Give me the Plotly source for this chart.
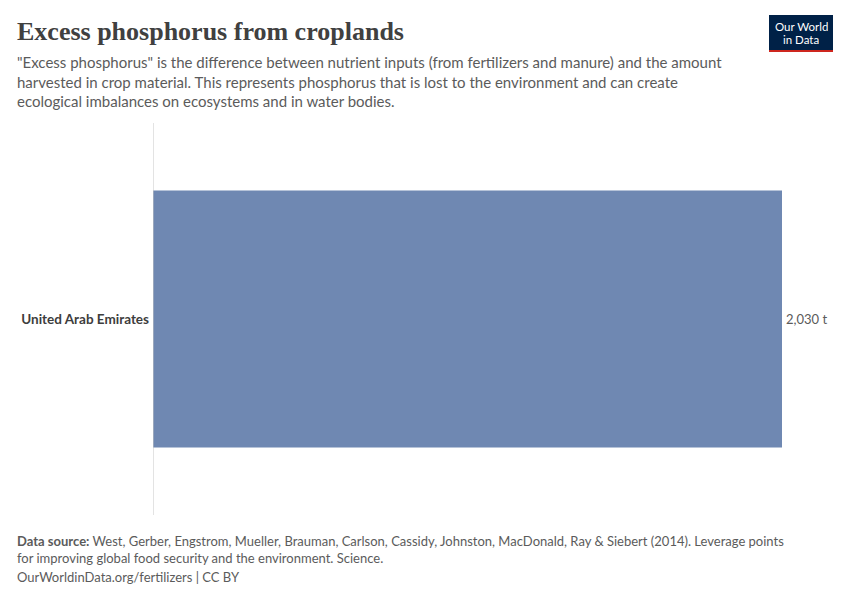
import plotly.graph_objects as go

countries = ["United Arab Emirates"]
excess_p = [2030]
value_labels = ["2,030 t"]

W, H = 850, 600
OFF = 8  # page body margin
L, R, T, B = 153 - OFF, 68 + OFF, 123 - OFF, 85 + OFF
PW, PH = W - L - R, H - T - B

fig = go.Figure()

fig.add_trace(go.Bar(
    x=excess_p, y=countries, orientation="h",
    marker=dict(color="#6f88b2", line=dict(width=0)),
    width=0.656, hoverinfo="skip",
))

# value label right of bar
for c, v, t in zip(countries, excess_p, value_labels):
    fig.add_annotation(x=v, y=c, text=t, xanchor="left", showarrow=False, xshift=2,
                       font=dict(family="Lato", size=13, color="#5b5b5b"))

fig.update_layout(
    width=W, height=H, plot_bgcolor="white", paper_bgcolor="white",
    margin=dict(l=L, r=R, t=T, b=B), showlegend=False,
    xaxis=dict(range=[0, max(excess_p)], visible=False),
    yaxis=dict(range=[-0.5, 0.5], showgrid=False, showline=False, ticks="",
               tickfont=dict(family="Lato", size=13.5, color="#3d3d3d", weight="bold"),
               ticklabelstandoff=3),
)

fig.add_shape(type="line", xref="x", yref="paper", x0=0, x1=0, y0=0, y1=1,
              line=dict(color="#c8c8c8", width=1))


def px_x(p):
    return (p - OFF - L) / PW


def px_y(p):
    return (H - B - (p - OFF)) / PH


fig.add_annotation(xref="paper", yref="paper", x=px_x(15), y=px_y(31),
                   text="Excess phosphorus from croplands", showarrow=False,
                   xanchor="left", yanchor="middle",
                   font=dict(family="Liberation Serif", size=26, color="#404040", weight="bold"))

subtitle = ('"Excess phosphorus" is the difference between nutrient inputs (from fertilizers and manure) and the amount<br>'
            'harvested in crop material. This represents phosphorus that is lost to the environment and can create<br>'
            'ecological imbalances on ecosystems and in water bodies.')
fig.add_annotation(xref="paper", yref="paper", x=px_x(15), y=px_y(51), text=subtitle,
                   showarrow=False, xanchor="left", yanchor="top", align="left",
                   font=dict(family="Lato", size=15, color="#5b5b5b"))

footer = ('<b>Data source:</b> West, Gerber, Engstrom, Mueller, Brauman, Carlson, Cassidy, Johnston, MacDonald, Ray & Siebert (2014). Leverage points<br>'
          'for improving global food security and the environment. Science.')
fig.add_annotation(xref="paper", yref="paper", x=px_x(15), y=px_y(531), text=footer,
                   showarrow=False, xanchor="left", yanchor="top", align="left",
                   font=dict(family="Lato", size=13, color="#5b5b5b"))
fig.add_annotation(xref="paper", yref="paper", x=px_x(15), y=px_y(567),
                   text="OurWorldinData.org/fertilizers | CC BY",
                   showarrow=False, xanchor="left", yanchor="top", align="left",
                   font=dict(family="Lato", size=13, color="#5b5b5b"))

# logo
fig.add_shape(type="rect", xref="paper", yref="paper", x0=px_x(769), x1=px_x(833),
              y0=px_y(50), y1=px_y(15), fillcolor="#002147", line=dict(width=0))
fig.add_shape(type="rect", xref="paper", yref="paper", x0=px_x(769), x1=px_x(833),
              y0=px_y(52), y1=px_y(50), fillcolor="#ce261e", line=dict(width=0))
for txt, yy in [("Our World", 26), ("in Data", 40)]:
    fig.add_annotation(xref="paper", yref="paper", x=px_x(801), y=px_y(yy),
                       text=txt, showarrow=False, xanchor="center", yanchor="middle",
                       height=13, valign="middle",
                       font=dict(family="Lato", size=11.5, color="white"))

fig.write_html("out.html")
